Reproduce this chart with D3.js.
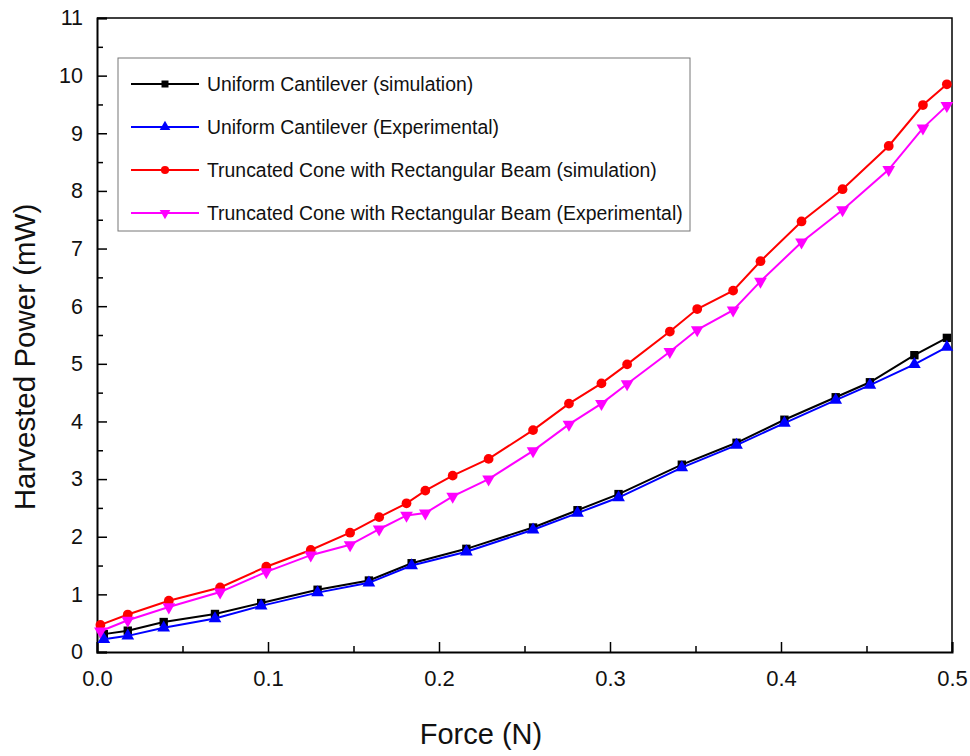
<html>
<head>
<style>
  body { margin: 0; background: #fff; }
  text { font-family: Arial, "Liberation Sans", sans-serif; fill: #111; }
  .xlab text { font-family: "Liberation Sans Narrow", "Arial Narrow", Arial, sans-serif; }
</style>
<script src="https://cdn.jsdelivr.net/npm/d3@7"></script>
</head>
<body>
<svg id="chart" width="970" height="756"></svg>
<script>
// uniform cantilever (both series share the force values)
const forceUniform = [0.004, 0.018, 0.039, 0.069, 0.096, 0.129, 0.159, 0.184, 0.216, 0.255, 0.281, 0.305, 0.342, 0.374, 0.402, 0.432, 0.452, 0.478, 0.497]
const uniformSim = [0.31, 0.37, 0.52, 0.66, 0.85, 1.08, 1.24, 1.54, 1.79, 2.16, 2.46, 2.74, 3.25, 3.63, 4.03, 4.42, 4.68, 5.15, 5.45]
const uniformExp = [0.22, 0.28, 0.42, 0.58, 0.80, 1.03, 1.20, 1.50, 1.74, 2.12, 2.41, 2.68, 3.20, 3.59, 3.97, 4.37, 4.63, 4.99, 5.29]

// truncated cone with rectangular beam
const forceCone = [0.002, 0.018, 0.042, 0.072, 0.099, 0.125, 0.148, 0.165, 0.181, 0.192, 0.208, 0.229, 0.255, 0.276, 0.295, 0.310, 0.335, 0.351, 0.372, 0.388, 0.412, 0.436, 0.463, 0.483, 0.497]
const coneSim = [0.47, 0.65, 0.89, 1.12, 1.48, 1.77, 2.07, 2.34, 2.58, 2.80, 3.06, 3.35, 3.85, 4.31, 4.66, 4.99, 5.56, 5.95, 6.27, 6.78, 7.47, 8.03, 8.78, 9.49, 9.85]
const coneExp = [0.36, 0.55, 0.78, 1.04, 1.39, 1.68, 1.86, 2.13, 2.37, 2.41, 2.70, 3.00, 3.49, 3.95, 4.31, 4.65, 5.21, 5.59, 5.93, 6.43, 7.11, 7.67, 8.37, 9.09, 9.48]

const xTicks = [0, 0.1, 0.2, 0.3, 0.4, 0.5]
const yTicks = d3.range(0, 12)

const series = [
  {name: "Uniform Cantilever (simulation)", x: forceUniform, y: uniformSim, color: "#000000", sym: d3.symbolSquare, size: 70, rot: 0},
  {name: "Uniform Cantilever (Experimental)", x: forceUniform, y: uniformExp, color: "#0000ff", sym: d3.symbolTriangle, size: 70, rot: 0},
  {name: "Truncated Cone with Rectangular Beam (simulation)", x: forceCone, y: coneSim, color: "#ff0000", sym: d3.symbolCircle, size: 75, rot: 0},
  {name: "Truncated Cone with Rectangular Beam (Experimental)", x: forceCone, y: coneExp, color: "#ff00ff", sym: d3.symbolTriangle, size: 70, rot: 180}
]

const svg = d3.select("#chart")
const plotL = 97, plotR = 952, plotT = 18, plotB = 652

const xScale = d3.scaleLinear().domain([0, 0.5]).range([plotL, plotR])
const yScale = d3.scaleLinear().domain([0, 11]).range([plotB, plotT])

// frame (top + right)
svg.append("path")
  .attr("d", `M${plotL},${plotT}H${plotR}V${plotB}`)
  .attr("fill", "none").attr("stroke", "#000").attr("stroke-width", 1.5)

// x axis, ticks pointing inward
const xg = svg.append("g").attr("class", "xlab").attr("transform", `translate(0,${plotB})`)
xg.call(d3.axisTop(xScale).tickValues(d3.range(0.05, 0.5, 0.1)).tickSize(6).tickFormat(""))
xg.call(g => g.select(".domain").remove())
const xg2 = svg.append("g").attr("class", "xlab").attr("transform", `translate(0,${plotB})`)
xg2.call(d3.axisTop(xScale).tickValues(xTicks).tickSize(10).tickFormat(d3.format(".1f")))
xg2.selectAll("text").attr("y", 34).attr("font-size", 22).attr("fill", "#111")
xg2.select(".domain").attr("stroke-width", 2)
svg.selectAll(".xlab line").attr("stroke-width", 1.5)

// y axis, ticks pointing inward
const yg = svg.append("g").attr("transform", `translate(${plotL},0)`)
yg.call(d3.axisRight(yScale).tickValues(d3.range(0.5, 11, 1)).tickSize(6).tickFormat(""))
yg.call(g => g.select(".domain").remove())
const yg2 = svg.append("g").attr("transform", `translate(${plotL},0)`)
yg2.call(d3.axisRight(yScale).tickValues(yTicks).tickSize(10))
yg2.selectAll("text").attr("x", -14).attr("text-anchor", "end").attr("font-size", 21.5).attr("fill", "#111")
yg2.select(".domain").attr("stroke-width", 2)
yg.selectAll("line").attr("stroke-width", 1.5)
yg2.selectAll("line").attr("stroke-width", 1.5)

// axis titles
svg.append("text").attr("x", 481).attr("y", 744).attr("text-anchor", "middle")
  .attr("font-size", 29).text("Force (N)")
svg.append("text").attr("transform", "translate(35,357) rotate(-90)").attr("text-anchor", "middle")
  .attr("font-size", 29.5).text("Harvested Power (mW)")

// lines and markers
const line = d3.line().x(d => xScale(d[0])).y(d => yScale(d[1]))
series.forEach(s => {
  const pts = s.x.map((v, i) => [v, s.y[i]])
  svg.append("path").datum(pts).attr("d", line)
    .attr("fill", "none").attr("stroke", s.color).attr("stroke-width", 2)
  svg.append("g").selectAll("path").data(pts).join("path")
    .attr("d", d3.symbol().type(s.sym).size(s.size))
    .attr("transform", d => `translate(${xScale(d[0])},${yScale(d[1])}) rotate(${s.rot})`)
    .attr("fill", s.color)
})

// legend
const lg = svg.append("g")
lg.append("rect").attr("x", 118).attr("y", 58).attr("width", 572).attr("height", 173)
  .attr("fill", "#fff").attr("stroke", "#777").attr("stroke-width", 1)
series.forEach((s, i) => {
  const y = 84 + i * 43
  lg.append("line").attr("x1", 131).attr("x2", 199).attr("y1", y).attr("y2", y)
    .attr("stroke", s.color).attr("stroke-width", 2)
  lg.append("path").attr("d", d3.symbol().type(s.sym).size(s.size * 0.7))
    .attr("transform", `translate(165,${y}) rotate(${s.rot})`).attr("fill", s.color)
  lg.append("text").attr("x", 207).attr("y", y + 7).attr("font-size", 19.4).text(s.name)
})
</script>
</body>
</html>
